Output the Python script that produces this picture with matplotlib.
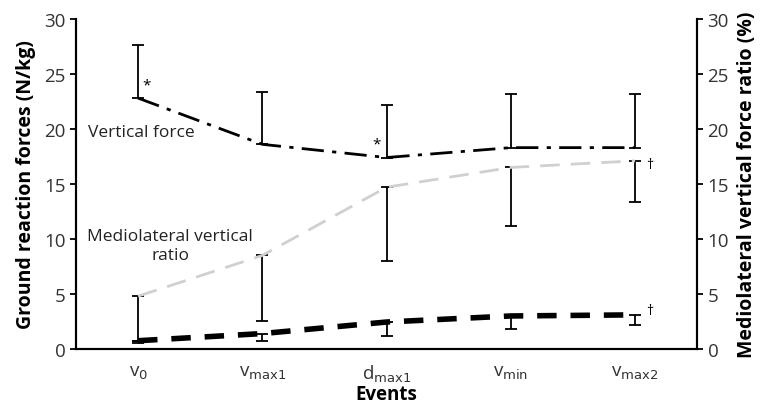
import matplotlib.pyplot as plt

plt.rcParams['font.family'] = ['Open Sans', 'DejaVu Sans']

events = [r'v$_0$', r'v$_{\mathrm{max1}}$', r'd$_{\mathrm{max1}}$', r'v$_{\mathrm{min}}$', r'v$_{\mathrm{max2}}$']

vertical = [22.8, 18.6, 17.4, 18.3, 18.3]
vertical_sd = [4.8, 4.8, 4.8, 4.9, 4.9]

ml_force = [0.75, 1.4, 2.45, 3.0, 3.1]
ml_force_sd = [0.25, 0.65, 1.3, 1.2, 0.9]

ml_ratio = [4.8, 8.5, 14.7, 16.5, 17.1]
ml_ratio_sd = [4.1, 6.0, 6.7, 5.3, 3.7]

x = [i + 0.5 for i in range(len(events))]

fig = plt.figure(figsize=(7.67, 4.06), dpi=100)
ax = fig.add_axes([0.099, 0.138, 0.81, 0.813])
ax2 = ax.twinx()

# vertical force, error bars upward
ax.errorbar(x, vertical, yerr=[[0] * 5, vertical_sd], fmt='none', ecolor='black',
            elinewidth=1.3, capsize=4, capthick=1.3, zorder=2)
ax.plot(x, vertical, color='black', lw=2, dashes=(8, 3, 1.5, 3), zorder=3)

# mediolateral force, error bars downward
ax.errorbar(x, ml_force, yerr=[ml_force_sd, [0] * 5], fmt='none', ecolor='black',
            elinewidth=1.3, capsize=4, capthick=1.3, zorder=2)
ax.plot(x, ml_force, color='black', lw=4, dashes=(3.5, 2.5), zorder=3)

# ratio on the right axis, error bars downward
ax2.errorbar(x, ml_ratio, yerr=[ml_ratio_sd, [0] * 5], fmt='none', ecolor='black',
             elinewidth=1.3, capsize=4, capthick=1.3, zorder=2)
ax2.plot(x, ml_ratio, color='#d0d0d0', lw=2, dashes=(7, 4), zorder=3)

for a in (ax, ax2):
    a.set_ylim(0, 30)
    a.set_xlim(0, 5)
    a.set_yticks(range(0, 31, 5))
    a.spines['top'].set_visible(False)
    for s in a.spines.values():
        s.set_linewidth(1.5)
    a.tick_params(axis='y', labelsize=13.5, length=4, width=1.3, colors='black', labelcolor='#333333')

ax.set_xticks(x)
ax.set_xticklabels(events, fontsize=13.5, color='#333333')
ax.tick_params(axis='x', length=0, pad=10)

ax.set_ylabel('Ground reaction forces (N/kg)', fontsize=14, fontweight='bold', labelpad=6)
ax2.set_ylabel('Mediolateral vertical force ratio (%)', fontsize=14, fontweight='bold', labelpad=6)
ax.set_xlabel('Events', fontsize=13.5, fontweight='bold', labelpad=0)

ax.text(0.53, 19.7, 'Vertical force', fontsize=12.5, ha='center', va='center', color='#222222')
ax.text(0.76, 9.4, 'Mediolateral vertical\nratio', fontsize=12.5, ha='center', va='center',
        color='#222222', linespacing=1.2)

ax.text(x[0] + 0.07, 24.0, '*', fontsize=11, ha='center', va='center')
ax.text(x[2] - 0.08, 18.6, '*', fontsize=11, ha='center', va='center')
ax.text(x[4] + 0.12, 16.8, '†', fontsize=10, ha='center', va='center')
ax.text(x[4] + 0.12, 3.5, '†', fontsize=10, ha='center', va='center')

fig.savefig('out.png', dpi=100)
